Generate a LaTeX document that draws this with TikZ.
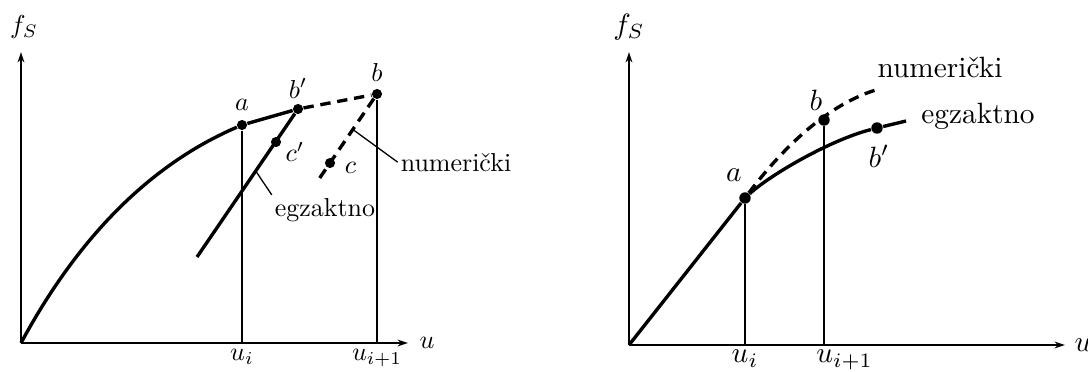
\documentclass[tikz,border=0pt]{standalone}
\usepackage{fontspec}
\usetikzlibrary{arrows.meta, positioning}
\def\px{0.385pt}

\begin{document}
\begin{tikzpicture}[
  x=\px, y=-\px,
  >={Stealth[length=4pt, width=2.6pt]},
  axis/.style  = {->, thick},
  exact/.style = {line width=1.3pt},
  numer/.style = {line width=1.3pt, dash pattern=on 4pt off 2.6pt},
  ordin/.style = {line width=0.55pt},
  lead/.style  = {line width=0.5pt},
  dot/.style   = {circle, fill, inner sep=0pt, minimum size=3.9pt},
  txt/.style   = {inner sep=1pt, anchor=base},
  big/.style   = {scale=1.13},
]
\useasboundingbox (0,0) rectangle (1088,371);

% ---------- axes of both panels ----------
\foreach \p/\ox/\oy/\xe/\fx/\ux/\sc in {1/21/343/408/24/427/1, 2/629/345/1065/629/1083/1.13}{
  \coordinate (O-\p) at (\ox,\oy);
  \node[scale=\sc] (fS-\p) at (\fx,27) {$f_S$};
  \node[scale=\sc] (u-\p)  at (\ux,\oy) {$u$};
  \draw[axis] (O-\p) -- (\ox,52);
  \draw[axis] (O-\p) -- (\xe,\oy);
}

% ---------- left panel: points ----------
\node[dot] (a-1)  at (242,125) {};
\node[dot] (bp-1) at (298,109) {};
\node[dot] (b-1)  at (377,94)  {};
\node[dot] (cp-1) at (276,142) {};
\node[dot] (c-1)  at (330,163) {};
\coordinate (eEnd-1) at (197,257);
\coordinate (nEnd-1) at (317,182);
\coordinate (fa-1) at (a-1 |- O-1);
\coordinate (fb-1) at (b-1 |- O-1);

% ---------- left panel: curves ----------
\draw[exact] (O-1) .. controls (90,215) and (170,156) .. (a-1) -- (bp-1);
\draw[exact] (bp-1) -- (eEnd-1) coordinate[pos=0.4] (eOn-1);
\draw[numer] (bp-1) -- (b-1);
\draw[numer] (b-1) -- (nEnd-1) coordinate[pos=0.37] (nOn-1);
\draw[ordin] (a-1) -- (fa-1);
\draw[ordin] (b-1) -- (fb-1);

% ---------- left panel: labels ----------
\node[above=0pt of a-1]               (la-1)  {$a$};
\node[above=-1.5pt of bp-1]           (lbp-1) {$b'$};
\node[above=-1pt of b-1]              (lb-1)  {$b$};
\node[right=-2pt of cp-1, yshift=-3.8pt] (lcp-1) {$c'$};
\node[right=0pt of c-1, yshift=-2pt]  (lc-1)  {$c$};
\node[below=-1.2pt of fa-1] (ui-1)  {$u_i$};
\node[below=-1.2pt of fb-1] (uip-1) {$u_{i+1}$};
\node[txt] (num-1) at (456,171) {numerički};
\node[txt] (egz-1) at (325,216) {egzaktno};
\draw[lead] (nOn-1) -- (num-1.west);
\draw[lead] (eOn-1) -- (egz-1.north west);

% ---------- right panel: points ----------
\node[dot, big] (a-2)  at (745,198) {};
\node[dot, big] (b-2)  at (824,120) {};
\node[dot, big] (bp-2) at (877,128) {};
\coordinate (eEnd-2) at (906,121);
\coordinate (nEnd-2) at (879,89);
\coordinate (fa-2) at (a-2 |- O-2);
\coordinate (fb-2) at (b-2 |- O-2);

% ---------- right panel: curves ----------
\draw[exact] (O-2) -- (a-2) .. controls (770,175) and (830,140) .. (bp-2) -- (eEnd-2);
\draw[numer] (a-2) .. controls (785,145) and (830,103) .. (nEnd-2);
\draw[ordin] (a-2) -- (fa-2);
\draw[ordin] (b-2) -- (fb-2);

% ---------- right panel: labels ----------
\node[big] (la-2)  at (734,175) {$a$};
\node[big] (lb-2)  at (816,100) {$b$};
\node[big] (lbp-2) at (879,156) {$b'$};
\node[big, below=-2pt of fa-2] (ui-2) {$u_i$};
\node[big, below=-2pt of fb-2, xshift=7pt] (uip-2) {$u_{i+1}$};
\node[txt, big] (num-2) at (940,77)  {numerički};
\node[txt, big] (egz-2) at (978,123) {egzaktno};

\end{tikzpicture}
\end{document}
